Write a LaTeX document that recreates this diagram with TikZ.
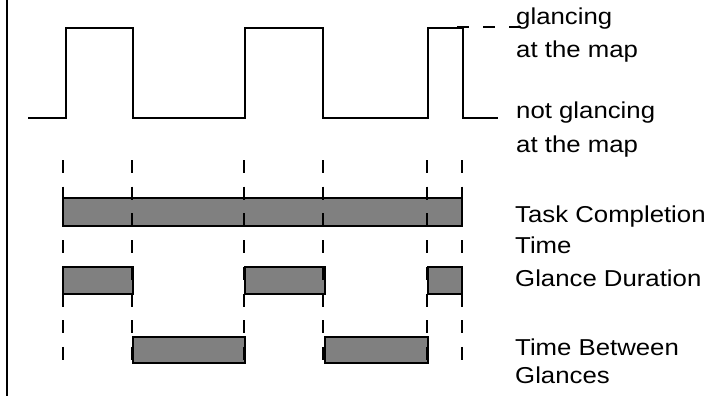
\documentclass[tikz,border=0pt]{standalone}
\usepackage{fontspec}
\setmainfont{Liberation Sans}
\definecolor{barfill}{RGB}{128,128,128}
\begin{document}
\begin{tikzpicture}[x=1pt,y=-1pt,
  wave/.style={line width=2pt, line join=miter},
  bar/.style={draw=black, fill=barfill, line width=1.8pt},
  tick/.style={line width=2pt, dash pattern=on 13pt off 13.7pt},
  lbl/.style={anchor=base west, inner sep=0pt, xscale=1.12, transform shape, font=\fontsize{23}{27}\selectfont}]
\useasboundingbox (0,0) rectangle (719,396);
% left axis
\draw[line width=2pt] (7,0) -- (7,396);
% waveform
\draw[wave] (28,118) -- (66,118) -- (66,28) -- (133,28) -- (133,118) -- (245,118) -- (245,28) -- (323,28) -- (323,118) -- (428,118) -- (428,28) -- (463,28) -- (463,118) -- (498,118);
\coordinate (dA) at (457,27);
\coordinate (dB) at (522,27);
\draw[line width=2pt, dash pattern=on 12pt off 14pt] (dA) -- (dB);
% bars
\draw[bar] (63,198) rectangle (462,226);
\draw[bar] (63,267) rectangle (133,294);
\draw[bar] (245,267) rectangle (325,294);
\draw[bar] (428,267) rectangle (462,294);
\draw[bar] (133,337) rectangle (245,363);
\draw[bar] (325,337) rectangle (428,363);
% vertical dashed ticks
\foreach \x in {63,132,244,323,427,462} {
  \draw[tick] (\x,160) -- (\x,360);
}
% labels
\node[lbl] (g1) at (516,25) {glancing};
\node[lbl] (g2) at (516,57) {at the map};
\node[lbl] (n1) at (516,118) {not glancing};
\node[lbl] (n2) at (516,152) {at the map};
\node[lbl] (t1) at (515,222) {Task Completion};
\node[lbl] (t2) at (515,253) {Time};
\node[lbl] (gd) at (515,286) {Glance Duration};
\node[lbl] (b1) at (515,355) {Time Between};
\node[lbl] (b2) at (515,383) {Glances};
\end{tikzpicture}
\end{document}
